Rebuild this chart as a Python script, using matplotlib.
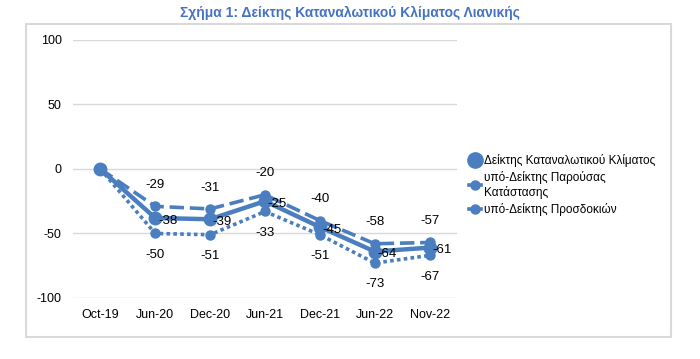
import matplotlib.pyplot as plt
from matplotlib.patches import Rectangle
from matplotlib.lines import Line2D

plt.rcParams['font.family'] = ['Liberation Sans', 'DejaVu Sans']
plt.rcParams['axes.unicode_minus'] = False

months = ["Oct-19", "Jun-20", "Dec-20", "Jun-21", "Dec-21", "Jun-22", "Nov-22"]
climate = [0, -38, -39, -25, -45, -64, -61]
present = [0, -29, -31, -20, -40, -58, -57]
expect = [0, -50, -51, -33, -51, -73, -67]

names = ["Δείκτης Καταναλωτικού Κλίματος",
         "υπό-Δείκτης Παρούσας\nΚατάστασης",
         "υπό-Δείκτης Προσδοκιών"]
title = "Σχήμα 1: Δείκτης Καταναλωτικού Κλίματος Λιανικής"

blue = "#4A7EBF"
grid = "#D9D9D9"

fig = plt.figure(figsize=(7, 3.59), dpi=100)
ax = fig.add_axes([0.104, 0.170, 0.549, 0.719])

x = list(range(len(months)))
ax.plot(x, climate, color=blue, lw=3.2, marker="o", ms=9, zorder=3)
ax.plot(x, present, color=blue, lw=2.6, ls=(0, (4, 1.6)), marker="o", ms=6.5, zorder=3)
ax.plot(x, expect, color=blue, lw=2.6, ls=(0, (1, 0.9)), marker="o", ms=6.5, zorder=3)

# data labels (first point has none)
for i in x[1:]:
    ax.annotate(str(climate[i]), (i, climate[i]), xytext=(2, -2), textcoords="offset points",
                ha="left", va="center", fontsize=9.5)
    ax.annotate(str(present[i]), (i, present[i]), xytext=(0, 11), textcoords="offset points",
                ha="center", va="bottom", fontsize=9.5)
    ax.annotate(str(expect[i]), (i, expect[i]), xytext=(0, -11), textcoords="offset points",
                ha="center", va="top", fontsize=9.5)

ax.set_xlim(-0.5, len(months) - 0.5)
ax.set_ylim(-100, 100)
ax.set_yticks([-100, -50, 0, 50, 100])
ax.set_xticks(x)
ax.set_xticklabels(months)
ax.tick_params(length=0, labelsize=9, pad=8)
ax.tick_params(axis="y", pad=8)
ax.yaxis.grid(True, color=grid, lw=1)
ax.set_axisbelow(True)
for s in ax.spines.values():
    s.set_visible(False)

handles = [
    Line2D([], [], color=blue, ls="none", marker="o", ms=11),
    Line2D([], [], color=blue, lw=2.6, marker="o", ms=6.5),
    Line2D([], [], color=blue, lw=2.6, marker="o", ms=6.5),
]
fig.legend(handles, names, loc="center left", bbox_to_anchor=(0.655, 0.485), frameon=False,
           fontsize=8.5, handlelength=1.0, handletextpad=0.3, labelspacing=0.35)

fig.text(0.5, 0.965, title, ha="center", va="center", color="#4472C4",
         fontsize=10, fontweight="bold")
fig.patches.append(Rectangle((0.037, 0.06), 0.922, 0.873, transform=fig.transFigure,
                             fill=False, edgecolor=grid, lw=1.5))

fig.savefig("out.png")
